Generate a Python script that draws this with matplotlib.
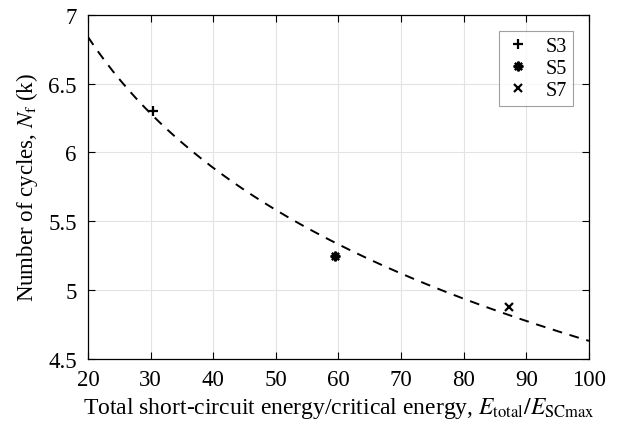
import matplotlib.pyplot as plt
import numpy as np

plt.rcParams['font.family'] = ['Liberation Serif', 'DejaVu Serif']
plt.rcParams['mathtext.fontset'] = 'stix'

# measured samples (energy ratio, cycles in k)
labels = ['S3', 'S5', 'S7']
energy = [30.4, 59.4, 87.2]
cycles = [6.30, 5.25, 4.88]
markers = ['+', (8, 2, 0), 'x']
msizes = [7, 7, 6]

# log fit through the samples: N = a + b*ln(E)
b, a = np.polyfit(np.log(energy), cycles, 1)
x_fit = np.linspace(20, 100, 200)
y_fit = a + b * np.log(x_fit)

fig = plt.figure(figsize=(6.28, 4.27), dpi=100)
ax = fig.add_axes([0.140, 0.157, 0.798, 0.806])

ax.plot(x_fit, y_fit, '--', color='black', linewidth=1.4, dashes=(5, 4))
for lab, xe, yc, m, ms in zip(labels, energy, cycles, markers, msizes):
    ax.plot(xe, yc, linestyle='none', marker=m, color='black',
            markersize=ms, markeredgewidth=1.6, label=lab)

ax.set_xlim(20, 100)
ax.set_ylim(4.5, 7)
ax.set_xticks(np.arange(20, 101, 10))
ax.set_yticks([4.5, 5, 5.5, 6, 6.5, 7])
ax.set_yticklabels(['4.5', '5', '5.5', '6', '6.5', '7'])
ax.grid(True, color='#e3e3e3', linewidth=0.8)
ax.set_axisbelow(True)
ax.tick_params(direction='in', top=True, right=True, labelsize=16.5, length=5)
ax.tick_params(axis='x', pad=7)
ax.tick_params(axis='y', pad=8)
for s in ax.spines.values():
    s.set_linewidth(0.9)

ax.set_xlabel(r'Total short-circuit energy/critical energy, $E_\mathrm{total}/E_\mathrm{SCmax}$',
              fontsize=17, labelpad=4)
ax.set_ylabel(r'Number of cycles, $N_\mathrm{f}$ (k)', fontsize=16.5, labelpad=6)

leg = ax.legend(loc='upper right', fontsize=14.5, frameon=True, fancybox=False,
                edgecolor='#888888', handletextpad=0.7, borderaxespad=0.8,
                handlelength=1.3, labelspacing=0.15, borderpad=0.3)
leg.get_frame().set_linewidth(0.8)

plt.savefig('out.png', dpi=100)
